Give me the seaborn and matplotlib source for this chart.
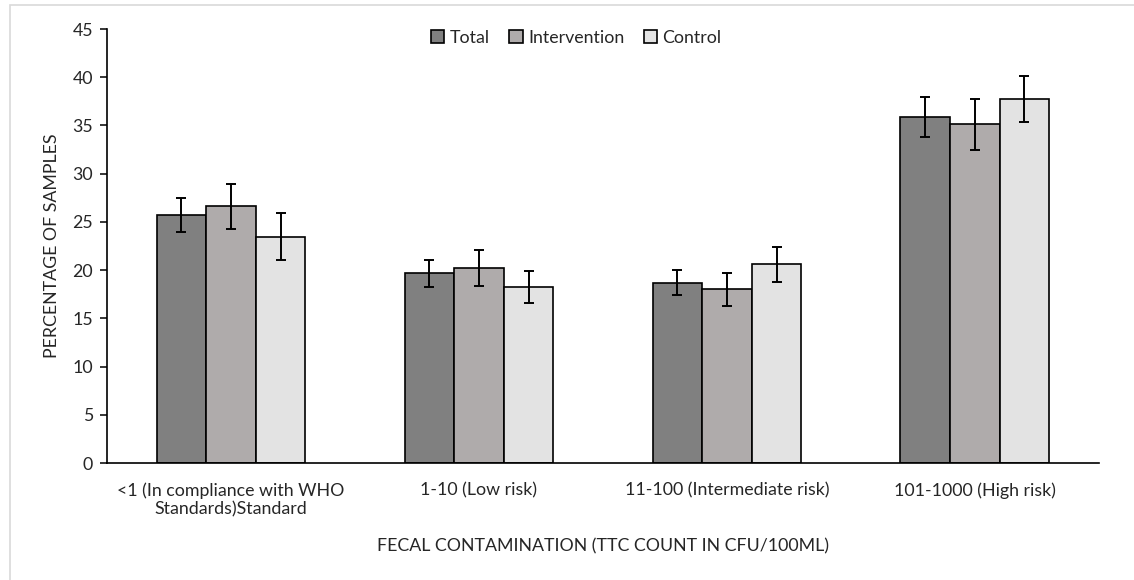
import matplotlib
matplotlib.use("Agg")
import matplotlib.pyplot as plt
from matplotlib.patches import Rectangle
import seaborn as sns
import pandas as pd
import numpy as np

# Contamination classes (TTC count in CFU/100 mL)
categories = [
    "<1 (In compliance with WHO\nStandards)Standard",
    "1-10 (Low risk)",
    "11-100 (Intermediate risk)",
    "101-1000 (High risk)",
]
groups = ["Total", "Intervention", "Control"]

# Percentage of samples per class
total_pct = [25.7, 19.7, 18.7, 35.9]
intervention_pct = [26.6, 20.2, 18.0, 35.2]
control_pct = [23.4, 18.2, 20.6, 37.7]

# 95% confidence limits
total_low = [24.0, 18.2, 17.4, 33.8]
total_high = [27.5, 21.0, 20.0, 37.9]
intervention_low = [24.3, 18.4, 16.3, 32.5]
intervention_high = [28.9, 22.1, 19.7, 37.7]
control_low = [21.0, 16.6, 18.8, 35.4]
control_high = [25.9, 19.9, 22.4, 40.1]

colors = ["#808080", "#AFABAB", "#E3E3E3"]

values = [total_pct, intervention_pct, control_pct]
lows = [total_low, intervention_low, control_low]
highs = [total_high, intervention_high, control_high]

df = pd.DataFrame({
    "category": [c for _ in groups for c in categories],
    "group": [g for g in groups for _ in categories],
    "pct": [v for series in values for v in series],
})

sns.set_theme(style="white")
plt.rcParams["font.family"] = ["Lato", "DejaVu Sans"]

FS = 12.8
TXT = "#262626"

fig = plt.figure(figsize=(11.34, 5.8), dpi=100)
ax = fig.add_axes([0.0944, 0.2017, 0.969 - 0.0944, 0.95 - 0.2017])

sns.barplot(
    data=df, x="category", y="pct", hue="group",
    order=categories, hue_order=groups, palette=colors,
    width=0.6, gap=0, errorbar=None, edgecolor="black", linewidth=1.2,
    saturation=1, ax=ax,
)

# Error bars at the centre of each drawn bar
bar_containers = list(ax.containers)
for gi, container in enumerate(bar_containers):
    for bi, bar in enumerate(container.patches):
        xc = bar.get_x() + bar.get_width() / 2
        v = values[gi][bi]
        err = [[v - lows[gi][bi]], [highs[gi][bi] - v]]
        ax.errorbar(xc, v, yerr=err, fmt="none", ecolor="black",
                    elinewidth=1.4, capsize=3.8, capthick=1.4, zorder=5)

ax.set_ylim(0, 45)
ax.set_yticks(np.arange(0, 46, 5))
ax.set_xlim(-0.5, len(categories) - 0.5)

for side in ["top", "right"]:
    ax.spines[side].set_visible(False)
for side in ["left", "bottom"]:
    ax.spines[side].set_color("black")
    ax.spines[side].set_linewidth(1.2)

ax.tick_params(axis="y", which="major", left=True, length=5, width=1.1,
               color="black", labelsize=FS, labelcolor=TXT, pad=5)
ax.tick_params(axis="x", bottom=False, labelsize=FS, labelcolor=TXT, pad=8)

ax.set_xlabel("FECAL CONTAMINATION (TTC COUNT IN CFU/100ML)", fontsize=FS,
              color=TXT, labelpad=15)
ax.set_ylabel("PERCENTAGE OF SAMPLES", fontsize=FS, color=TXT, labelpad=9)

leg = ax.legend(
    loc="center", bbox_to_anchor=(0.473, 0.979), ncol=3, frameon=False,
    fontsize=FS, handlelength=0.75, handleheight=0.75, handletextpad=0.3,
    columnspacing=1.1, borderaxespad=0, borderpad=0,
)
for txt in leg.get_texts():
    txt.set_color(TXT)

# Light frame around the chart area
fig.add_artist(Rectangle((10 / 1134, -0.1), 1.2, 1.1 - 5 / 580,
                         transform=fig.transFigure, fill=False,
                         edgecolor="#D9D9D9", linewidth=1.2))

fig.savefig("out.png", dpi=100)
